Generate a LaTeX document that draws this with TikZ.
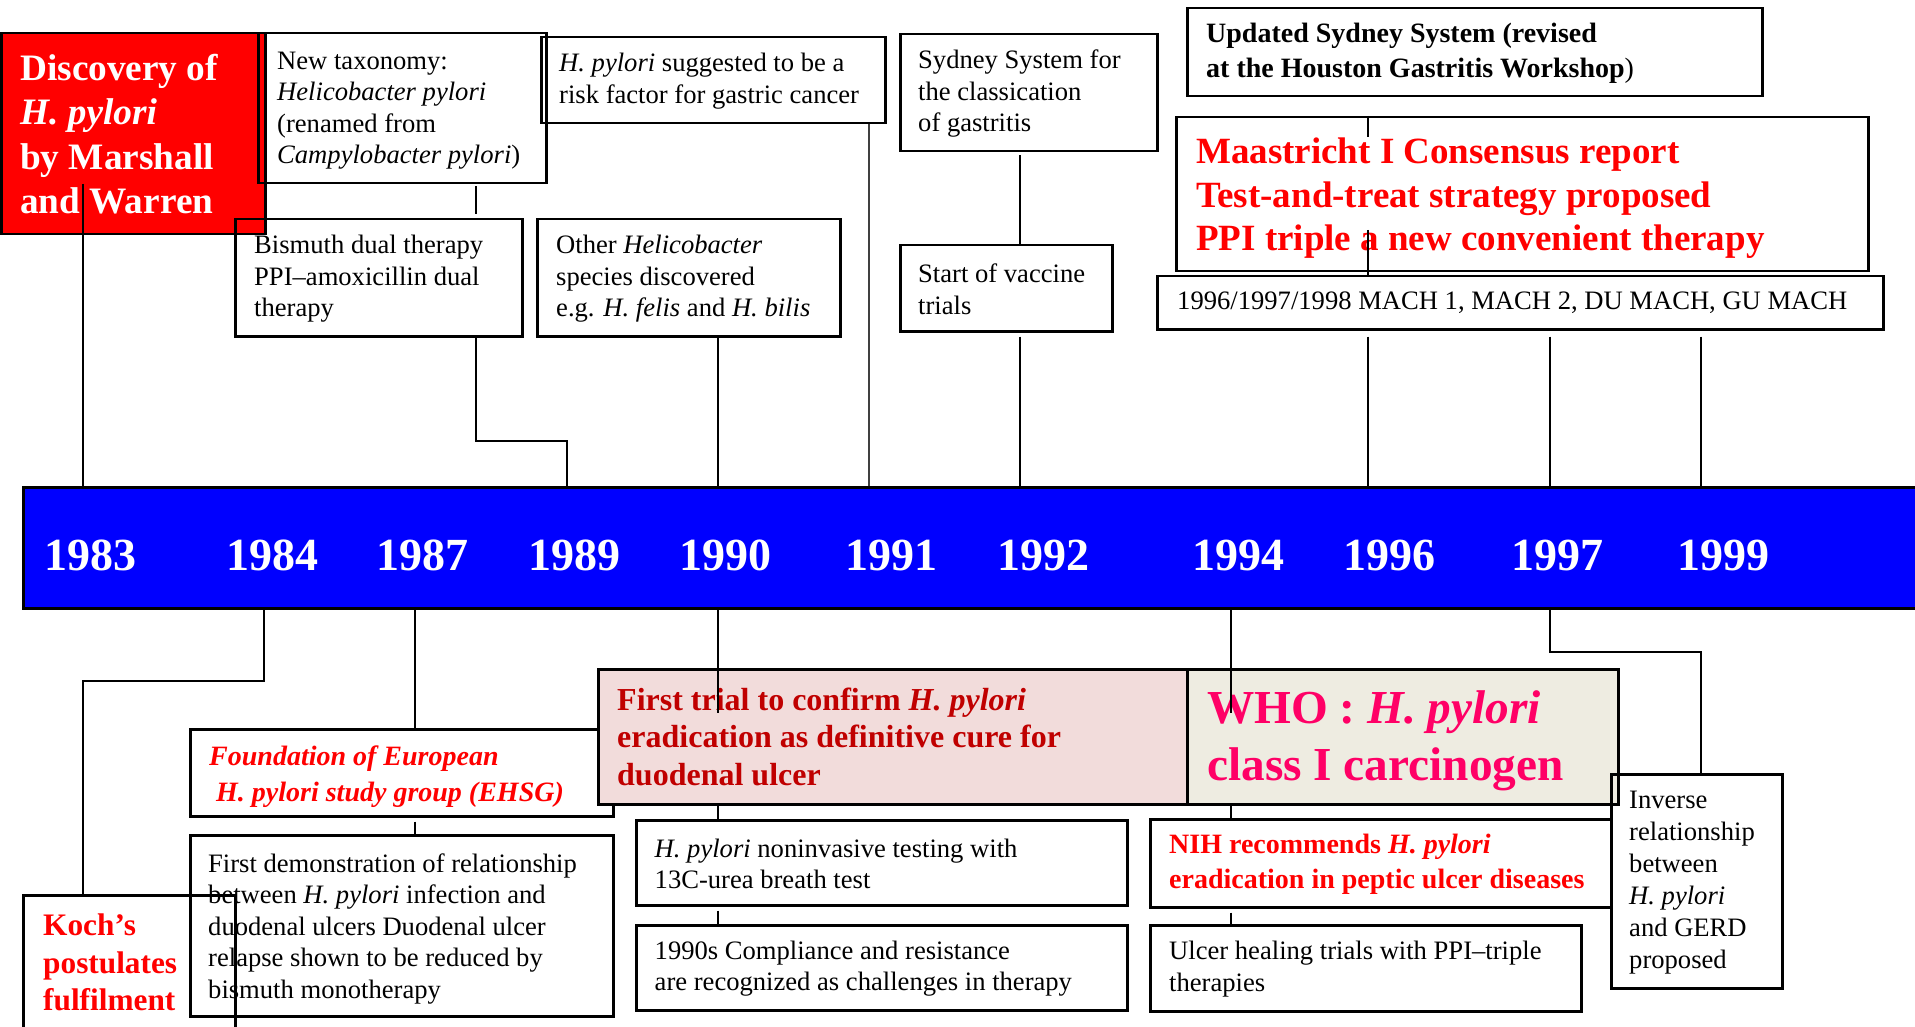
\documentclass[tikz,border=0pt]{standalone}
\usepackage{fontspec}
\setmainfont{Liberation Serif}
\usetikzlibrary{calc}
\definecolor{barblue}{RGB}{0,0,255}
\definecolor{hred}{RGB}{255,0,0}
\definecolor{dred}{RGB}{192,0,0}
\definecolor{pinkfill}{RGB}{242,220,219}
\definecolor{beigefill}{RGB}{238,236,225}
\definecolor{magred}{RGB}{255,0,102}
\begin{document}
\begin{tikzpicture}[x=1pt,y=-1pt,
 box/.style={draw=black, line width=2.5pt, rectangle, inner sep=0pt, anchor=north west},
 conn/.style={draw=black, line width=2pt},
 txt/.style={inner sep=0pt, align=left, anchor=west},
 body/.style={font=\fontsize{26.6}{31.5}\selectfont},
 year/.style={inner sep=0pt, anchor=base west, text=white, font=\bfseries\fontsize{46}{50}\selectfont},
]
\useasboundingbox (0,0) rectangle (1915,1027);
\clip (0,0) rectangle (1915,1027);

% ---------- coordinates for connector x positions
\coordinate (cx415) at (415,0);
\coordinate (cx718) at (718,0);
\coordinate (cx869) at (869,0);
\coordinate (cx1020) at (1020,0);
\coordinate (cx1368) at (1368,0);
\coordinate (cx1550) at (1550,0);
\coordinate (cx1701) at (1701,0);

% ---------- timeline bar
\node[box, fill=barblue, minimum width=1910pt, minimum height=121pt] (bar) at (22,486) {};
\node[year] (y1983) at (44,570) {1983};
\node[year] (y1984) at (226,570) {1984};
\node[year] (y1987) at (376,570) {1987};
\node[year] (y1989) at (528,570) {1989};
\node[year] (y1990) at (679,570) {1990};
\node[year] (y1991) at (845,570) {1991};
\node[year] (y1992) at (997,570) {1992};
\node[year] (y1994) at (1192,570) {1994};
\node[year] (y1996) at (1343,570) {1996};
\node[year] (y1997) at (1511,570) {1997};
\node[year] (y1999) at (1677,570) {1999};

% ---------- top boxes
\node[box, fill=hred, minimum width=264pt, minimum height=201pt] (disc) at (0,32) {};
\node[txt, text=white, font=\bfseries\fontsize{37.3}{44.5}\selectfont] (disct) at ($(disc.west)+(20,0.5)$) {Discovery of\\\textit{H. pylori}\\by Marshall\\and Warren};

\node[box, minimum width=288pt, minimum height=150pt] (tax) at (257,32) {};
\node[txt, body] (taxt) at ($(tax.west)+(20,2.5)$) {New taxonomy:\\\textit{Helicobacter pylori}\\(renamed from\\\textit{Campylobacter pylori})};

\node[box, minimum width=287pt, minimum height=117pt] (bis) at (234,218) {};
\node[txt, body] (bist) at ($(bis.west)+(20,1)$) {Bismuth dual therapy\\PPI–amoxicillin dual\\therapy};

\node[box, minimum width=344pt, minimum height=86pt] (gas) at (540,36) {};
\node[txt, body] (gast) at ($(gas.west)+(19,1)$) {\textit{H. pylori} suggested to be a\\risk factor for gastric cancer};

\node[box, minimum width=303pt, minimum height=117pt] (oth) at (536,218) {};
\node[txt, body] (otht) at ($(oth.west)+(20,1)$) {Other \textit{Helicobacter}\\species discovered\\e.g. \textit{H. felis} and \textit{H. bilis}};

\node[box, minimum width=257pt, minimum height=117pt] (syd) at (899,33) {};
\node[txt, body] (sydt) at ($(syd.west)+(19,1)$) {Sydney System for\\the classication\\of gastritis};

\node[box, minimum width=212pt, minimum height=86pt] (vac) at (899,244) {};
\node[txt, body] (vact) at ($(vac.west)+(19,1)$) {Start of vaccine\\trials};

\node[box, minimum width=575pt, minimum height=88pt] (upd) at (1186,7) {};
\node[txt, font=\fontsize{28}{35}\selectfont] (updt) at ($(upd.west)+(20,1)$) {\textbf{Updated Sydney System (revised}\\\textbf{at the Houston Gastritis Workshop})};

\node[box, minimum width=692pt, minimum height=154pt] (maas) at (1175,116) {};
\node[txt, text=hred, font=\bfseries\fontsize{37}{43.5}\selectfont] (maast) at ($(maas.west)+(21,4)$) {Maastricht I Consensus report\\Test-and-treat strategy proposed\\PPI triple a new convenient therapy};

\node[box, minimum width=726pt, minimum height=53pt] (mach) at (1156,275) {};
\node[txt, body] (macht) at ($(mach.west)+(21,0)$) {1996/1997/1998 MACH 1, MACH 2, DU MACH, GU MACH};

% ---------- top connectors
\coordinate (d83) at (83,184);
\draw[conn] (d83) -- (d83 |- bar.north);
\coordinate (xa) at (476,441);
\coordinate (xb) at (567,441);
\draw[conn, shorten <=2pt, shorten >=4pt] (tax.south -| xa) -- (bis.north -| xa);
\draw[conn] (bis.south -| xa) -- (xa) -- (xb) -- (xb |- bar.north);
\draw[conn] (oth.south -| cx718) -- (cx718 |- bar.north);
\draw[conn, line width=1.5pt, black!75] (gas.south -| cx869) -- (cx869 |- bar.north);
\draw[conn, shorten <=3pt] (syd.south -| cx1020) -- (vac.north -| cx1020);
\draw[conn, shorten <=4pt] (vac.south -| cx1020) -- (cx1020 |- bar.north);
\draw[conn, shorten <=6pt] (mach.south -| cx1368) -- (cx1368 |- bar.north);
\draw[conn, shorten <=6pt] (mach.south -| cx1550) -- (cx1550 |- bar.north);
\draw[conn, shorten <=6pt] (mach.south -| cx1701) -- (cx1701 |- bar.north);
\draw[conn, line width=1.5pt] (maas.north -| cx1368) -- ++(0,21);
\coordinate (m1) at (1368,230);
\draw[conn, line width=1.5pt] (m1) -- (mach.north -| m1);

% ---------- bottom boxes
\node[box, minimum width=423pt, minimum height=87pt] (ehsg) at (189,728) {};
\node[txt, text=hred, font=\bfseries\itshape\fontsize{28}{36}\selectfont] (ehsgt) at ($(ehsg.west)+(20,4)$) {Foundation of European\\\hspace*{7pt}H. pylori study group (EHSG)};

\node[box, minimum width=423pt, minimum height=181pt] (demo) at (189,834) {};
\node[txt, body] (demot) at ($(demo.west)+(19,3)$) {First demonstration of relationship\\between \textit{H. pylori} infection and\\duodenal ulcers Duodenal ulcer\\relapse shown to be reduced by\\bismuth monotherapy};

\node[box, minimum width=212pt, minimum height=150pt] (koch) at (22,894) {};
\node[inner sep=0pt, align=left, anchor=north west, text=hred, font=\bfseries\fontsize{31.3}{37.5}\selectfont] (locht) at (43,914) {Koch’s\\postulates\\fulfilment};

\node[box, fill=pinkfill, minimum width=589pt, minimum height=135pt] (trial) at (597,668) {};
\node[txt, text=dred, font=\bfseries\fontsize{32}{37.5}\selectfont] (trialt) at ($(trial.west)+(20,0)$) {First trial to confirm \textit{H. pylori}\\eradication as definitive cure for\\duodenal ulcer};

\node[box, fill=beigefill, minimum width=431pt, minimum height=135pt] (who) at (1186,668) {};
\node[txt, text=magred, font=\bfseries\fontsize{47.3}{57}\selectfont] (whot) at ($(who.west)+(21,4)$) {WHO : \textit{H. pylori}\\class I carcinogen};

\node[box, minimum width=491pt, minimum height=85pt] (noninv) at (635,819) {};
\node[txt, font=\fontsize{26.6}{30.5}\selectfont] (noninvt) at ($(noninv.west)+(19.5,1)$) {\textit{H. pylori} noninvasive testing with\\13C-urea breath test};

\node[box, minimum width=491pt, minimum height=85pt] (comp) at (635,924) {};
\node[txt, body] (compt) at ($(comp.west)+(19.5,1)$) {1990s Compliance and resistance\\are recognized as challenges in therapy};

\node[box, minimum width=461pt, minimum height=88pt] (nih) at (1149,818) {};
\node[txt, text=hred, font=\bfseries\fontsize{28}{35}\selectfont] (niht) at ($(nih.west)+(20,1)$) {NIH recommends \textit{H. pylori}\\eradication in peptic ulcer diseases};

\node[box, minimum width=431pt, minimum height=86pt] (ulcer) at (1149,924) {};
\node[txt, body] (ulcert) at ($(ulcer.west)+(20,1)$) {Ulcer healing trials with PPI–triple\\therapies};

\node[box, minimum width=171pt, minimum height=214pt] (inv) at (1610,773) {};
\node[txt, font=\fontsize{26.6}{32}\selectfont] (invt) at ($(inv.west)+(19,1)$) {Inverse\\relationship\\between\\\textit{H. pylori}\\and GERD\\proposed};

% ---------- bottom connectors
\coordinate (k1) at (264,681);
\coordinate (k2) at (83,681);
\draw[conn] (bar.south -| k1) -- (k1) -- (k2) -- (koch.north -| k2);
\draw[conn] (bar.south -| cx415) -- (ehsg.north -| cx415);
\draw[conn, shorten <=4pt] (ehsg.south -| cx415) -- (demo.north -| cx415);
\coordinate (t1) at (718,713);
\draw[conn] (bar.south -| t1) -- (t1);
\draw[conn] (trial.south -| t1) -- (noninv.north -| t1);
\draw[conn, shorten <=4pt] (noninv.south -| t1) -- (comp.north -| t1);
\coordinate (w1) at (1231,713);
\draw[conn] (bar.south -| w1) -- (w1);
\draw[conn] (who.south -| w1) -- (nih.north -| w1);
\draw[conn, shorten <=4pt] (nih.south -| w1) -- (ulcer.north -| w1);
\coordinate (v1) at (1550,652);
\coordinate (v2) at (1701,652);
\draw[conn] (bar.south -| v1) -- (v1) -- (v2) -- (inv.north -| v2);
\end{tikzpicture}
\end{document}
